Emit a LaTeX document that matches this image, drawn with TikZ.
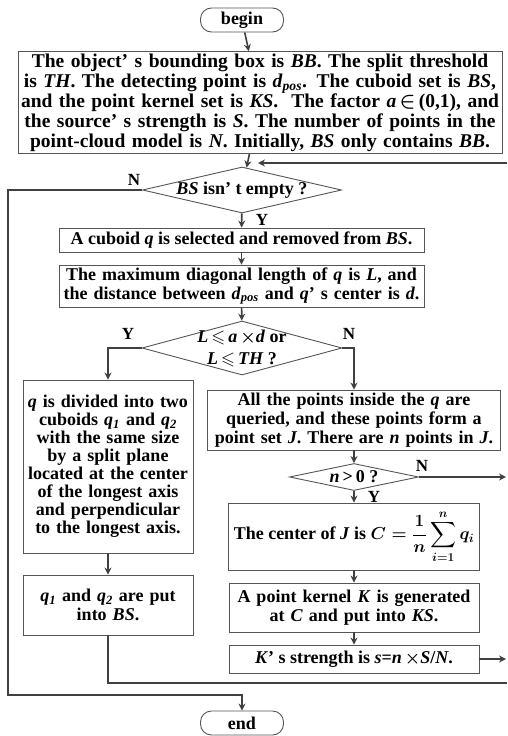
\documentclass[tikz,border=0pt]{standalone}
\usepackage{fontspec}
\setmainfont{Liberation Serif}
\usepackage{amsmath,amssymb}
\usetikzlibrary{arrows.meta,shapes.geometric}
\definecolor{linegray}{HTML}{404040}
\definecolor{boxgray}{HTML}{555555}
\newcommand{\iv}[1]{\textit{#1}}

\begin{document}
\begin{tikzpicture}[x=1pt,y=-1pt,>={Stealth[length=7pt,width=7pt]},
  font=\fontsize{18}{19}\selectfont\bfseries\boldmath,
  b/.style={draw=boxgray,line width=0.9pt,align=center,inner sep=2pt},
  t/.style={draw=boxgray,line width=0.9pt,rounded corners=11pt,minimum width=83pt,minimum height=24pt,inner sep=0pt},
  d/.style={draw=boxgray,line width=0.9pt,diamond,inner sep=0pt},
  l/.style={draw=linegray,line width=1.6pt},
  lbl/.style={font=\fontsize{17}{18}\selectfont\bfseries}]
\useasboundingbox (0,0) rectangle (507,736);
\node[t] (begin) at (242,20) {begin};
\node[b,minimum width=484pt,minimum height=101pt,text width=480pt,font=\fontsize{19.5}{20}\selectfont\bfseries\boldmath] (init) at (260,102.5) {The object’ s bounding box is \iv{BB}. The split threshold\\is \iv{TH}. The detecting point is \iv{d}\textsubscript{\iv{pos}}. The cuboid set is \iv{BS},\\and the point kernel set is \iv{KS}.\ \ The factor \iv{a}\,$\in$\,(0,1), and\\the source’ s strength is \iv{S}. The number of points in the\\point-cloud model is \iv{N}. Initially, \iv{BS} only contains \iv{BB}.};
\node[d,minimum width=199pt,minimum height=46pt] (d1) at (242,190) {};
\node (d1t) at (d1) {\iv{BS} isn’ t empty ?};
\node[b,minimum width=365pt,minimum height=24pt] (sel) at (241.5,240) {A cuboid \iv{q} is selected and removed from \iv{BS}.};
\node[b,minimum width=365pt,minimum height=42pt,text width=360pt] (len) at (241.5,286) {The maximum diagonal length of \iv{q} is \iv{L}, and\\the distance between \iv{d}\textsubscript{\iv{pos}} and \iv{q}’ s center is \iv{d}.};
\node[d,minimum width=200pt,minimum height=54pt] (d2) at (242,348) {};
\node[align=center,font=\fontsize{18}{22}\selectfont\bfseries\boldmath] (d2t) at (d2) {\iv{L}\,$\leqslant$\,\iv{a}\,$\times$\iv{d} or\\\iv{L}\,$\leqslant$\,\iv{TH} ?};
\node[b,minimum width=170pt,minimum height=173pt,text width=165pt,font=\fontsize{18}{18}\selectfont\bfseries] (div) at (108,466.5) {\iv{q} is divided into two\\cuboids \iv{q\textsubscript{1}} and \iv{q\textsubscript{2}}\\with the same size\\by a split plane\\located at the center\\of the longest axis\\and perpendicular\\to the longest axis.};
\node[b,minimum width=170pt,minimum height=60pt,text width=165pt] (put) at (108,605) {\iv{q\textsubscript{1}} and \iv{q\textsubscript{2}} are put\\into \iv{BS}.};
\node[b,minimum width=293pt,minimum height=60pt,text width=288pt] (qry) at (354,420) {All the points inside the \iv{q} are\\queried, and these points form a\\point set \iv{J}. There are \iv{n} points in \iv{J}.};
\node[d,minimum width=129pt,minimum height=27pt] (d3) at (354,477) {};
\node (d3t) at (d3) {\iv{n}\,>\,0 ?};
\node[b,minimum width=251pt,minimum height=67pt,inner sep=0pt] (ctr) at (354,536.5) {The center of \iv{J} is $\displaystyle C=\frac{1}{n}\sum_{i=1}^{n} q_i$};
\node[b,minimum width=250pt,minimum height=49pt,text width=245pt] (ker) at (354,607.5) {A point kernel \iv{K} is generated\\at \iv{C} and put into \iv{KS}.};
\node[b,minimum width=250pt,minimum height=28pt] (str) at (354,659) {\iv{K}’ s strength is \iv{s}=\iv{n}\,$\times$\iv{S}/\iv{N}.};
\node[t] (end) at (242,723) {end};
% free ends at the right edge
\coordinate (fb) at (258,163);
\coordinate (rin) at (507,163);
\coordinate (rn) at (506,477);
\coordinate (rs) at (506,659);
\coordinate (rb) at (507,683);
\coordinate (lc) at (8,695);
% labels
\node[lbl] (n1) at (134,180) {N};
\node[lbl] (y1) at (262,220) {Y};
\node[lbl] (y2) at (128,334) {Y};
\node[lbl] (n2) at (349,334) {N};
\node[lbl] (n3) at (422,466) {N};
\node[lbl] (y3) at (374,497) {Y};
% connectors
\draw[l,->] (begin) -- (init);
\draw[l,->] (init) -- (d1);
\draw[l,->] (rin) -- (fb);
\draw[l,->] (d1) -- (sel);
\draw[l,->] (sel) -- (len);
\draw[l,->] (len) -- (d2);
\draw[l,->] (d2.west) -| (div.north);
\draw[l,->] (d2.east) -| (qry.north);
\draw[l,->] (div) -- (put);
\draw[l,->] (qry) -- (d3);
\draw[l,->] (d3) -- (ctr);
\draw[l,->] (d3.east) -- (rn);
\draw[l,->] (ctr) -- (ker);
\draw[l,->] (ker) -- (str);
\draw[l,->] (str.east) -- (rs);
\draw[l] (put.south) |- (rb);
\draw[l,->] (d1.west) -| (lc) -| (end.north);
\end{tikzpicture}
\end{document}
